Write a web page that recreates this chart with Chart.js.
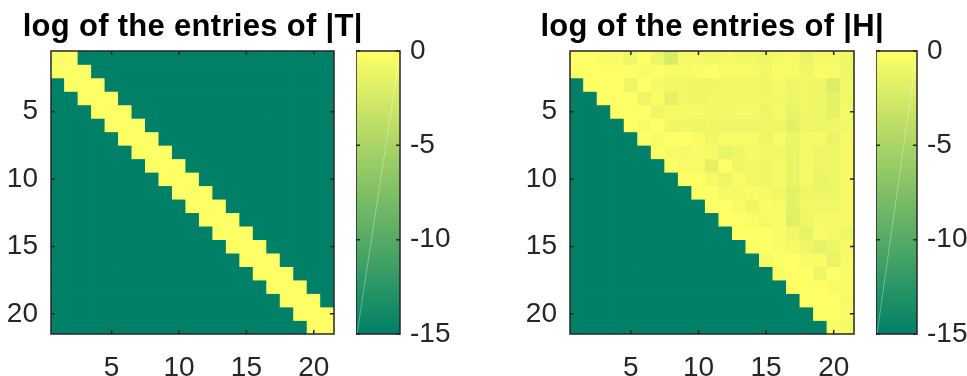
<!DOCTYPE html>
<html lang="en">
<head>
<meta charset="UTF-8">
<title>log of the entries of |T| and |H|</title>
<script src="https://cdn.jsdelivr.net/npm/chart.js"></script>
<style>
  body { margin: 0; background: #fff; width: 967px; height: 376px; position: relative; overflow: hidden; }
  canvas { position: absolute; top: 0; }
  #tChart { left: 0; }
  #tBar { left: 356px; }
  #hChart { left: 519px; }
  #hBar { left: 876px; }
</style>
</head>
<body>
<canvas id="tChart" width="385" height="376"></canvas>
<canvas id="tBar" width="94" height="376"></canvas>
<canvas id="hChart" width="386" height="376"></canvas>
<canvas id="hBar" width="91" height="376"></canvas>
<script>
// ---- data (log10 of |entry|) ----
const N = 21;
const AXIS_TICKS = [5, 10, 15, 20];
const CBAR_TICKS = [0, -5, -10, -15];
const LOG_MIN = -15;
const LOG_MAX = 0;

// T is tridiagonal: main, sub and super diagonal
const T_DIAG = [-0.4, 0, 0, 0, 0, 0, 0, 0, 0, 0, 0, 0, 0, 0, 0, 0, 0, 0, 0, 0, 0];
const T_SUB  = [0, 0, 0, 0, 0, 0, 0, 0, 0, 0, 0, 0, 0, 0, 0, 0, 0, 0, 0, 0];
const T_SUP  = [0, 0, 0, 0, 0, 0, 0, 0, 0, 0, 0, 0, 0, 0, 0, 0, 0, 0, 0, 0];

// H is upper Hessenberg: row r starts at column max(1, r-1), everything left of it is 0
const H_ROWS = [
  [0, 0, -0.4, -0.4, -0.9, 0, -1.1, -2.4, -0.6, -0.6, -0.7, -0.6, -0.7, -0.7, -0.9, -0.6, -0.5, -1.3, -0.6, -0.6, -0.9],
  [0, 0, 0, 0, 0, -0.4, 0, -0.5, -0.5, -0.3, 0, -0.3, -0.3, -0.5, -0.8, -0.3, -0.5, -0.8, -0.3, -0.5, -1.1],
  [0, 0, 0, -1.1, 0, -0.6, -0.8, -0.8, -0.9, -0.9, -0.8, -0.8, -0.8, -0.9, -0.6, -1.0, -0.8, -0.9, -2.0, -0.8],
  [0, 0, 0, -1.1, -0.3, -1.6, -0.8, -0.9, -0.7, -0.8, -0.8, -0.8, -0.8, -0.7, -1.0, -0.8, -0.9, -1.5, -0.8],
  [0, 0, 0, -0.9, -0.6, -0.6, -0.6, -0.7, -0.7, -0.6, -0.6, -1.1, -0.6, -1.3, -0.9, -0.9, -1.5, -0.6],
  [0, -0.4, 0, -0.8, -1.0, -1.1, -1.0, -1.1, -1.1, -1.1, -1.0, -1.0, -1.6, -0.9, -1.1, -0.9, -0.8],
  [0, -0.5, 0, 0, -0.3, -0.8, -0.5, -0.5, -0.5, -1.1, -0.5, -1.1, -0.6, -0.6, -1.3, -0.6],
  [0, -0.5, -0.6, -0.4, -0.6, -1.3, -0.9, -0.6, -0.7, -0.8, -1.3, -0.6, -1.1, -0.9, -0.6],
  [0, -0.5, -0.5, -1.6, 0, -0.9, -0.8, -0.9, -0.6, -1.3, -0.6, -1.1, -0.9, -0.6],
  [0, 0, -0.6, -1.1, -0.3, -0.8, -0.9, -0.6, -1.3, -0.6, -1.3, -0.9, -0.6],
  [0, 0, -0.6, -0.6, -0.3, -0.6, -0.8, -1.6, -0.9, -1.1, -1.1, -0.6],
  [0, 0, -0.5, -0.9, -0.3, -0.5, -1.6, -0.8, -0.8, -0.8, -0.6],
  [0, 0, -0.3, -0.6, -0.3, -1.9, -0.9, -0.6, -0.6, -0.6],
  [0, 0, 0, -0.3, -0.9, -1.4, -0.5, -0.6, -0.9],
  [0, 0, -0.3, -0.6, -0.9, -1.4, -0.9, -0.6],
  [-0.5, 0, 0, -0.5, -0.3, -1.3, -0.5],
  [-0.3, 0, 0, -1.1, 0, -0.5],
  [0, 0, 0, -0.4, -0.4],
  [0, 0, 0, -0.6],
  [0, 0, -0.4],
  [-0.4, -0.6]
];

// ---- styling ----
const FONT = "'Liberation Sans', Arial, Helvetica, sans-serif";
const AXIS_COLOR = '#262626';
const TICK_LEN = 4;

// MATLAB "summer" colormap, clipped to [LOG_MIN, LOG_MAX]
function summer(v) {
  const c = Math.min(LOG_MAX, Math.max(LOG_MIN, v));
  const t = (c - LOG_MIN) / (LOG_MAX - LOG_MIN);
  return `rgb(${Math.round(255 * t)}, ${Math.round(255 * (0.5 + 0.5 * t))}, 102)`;
}

// full matrices, exact zeros -> -Infinity
const T_MAT = [];
for (let r = 0; r < N; r++) {
  const row = [];
  for (let c = 0; c < N; c++) {
    if (c === r) row.push(T_DIAG[r]);
    else if (c === r - 1) row.push(T_SUB[c]);
    else if (c === r + 1) row.push(T_SUP[r]);
    else row.push(-Infinity);
  }
  T_MAT.push(row);
}
const H_MAT = H_ROWS.map((vals, r) => {
  const start = Math.max(0, r - 1);
  return Array(start).fill(-Infinity).concat(vals);
});

function cellDatasets(mat) {
  return mat.map((row, r) => ({
    data: row.map((v, c) => ({ x: c + 1, y: [r + 0.5, r + 1.5] })),
    backgroundColor: row.map(summer),
    borderWidth: 0
  }));
}

// box with inward ticks, drawn on top of the cells
const framePlugin = {
  id: 'frame',
  afterDatasetsDraw(chart, args, opts) {
    const { ctx, chartArea: a } = chart;
    ctx.save();
    if (opts.sheen) {
      ctx.strokeStyle = 'rgba(255,255,255,0.4)';
      ctx.lineWidth = 0.8;
      ctx.beginPath();
      ctx.moveTo(a.left + 1, a.bottom);
      ctx.lineTo(a.right - 1, a.top + 8);
      ctx.stroke();
    }
    ctx.strokeStyle = AXIS_COLOR;
    ctx.lineWidth = 1.5;
    ctx.beginPath();
    if (opts.xTicks) {
      chart.scales.x.ticks.forEach(t => {
        const p = chart.scales.x.getPixelForValue(t.value);
        ctx.moveTo(p, a.bottom); ctx.lineTo(p, a.bottom - TICK_LEN);
        ctx.moveTo(p, a.top); ctx.lineTo(p, a.top + TICK_LEN);
      });
    }
    chart.scales.y.ticks.forEach(t => {
      const p = chart.scales.y.getPixelForValue(t.value);
      ctx.moveTo(a.left, p); ctx.lineTo(a.left + TICK_LEN, p);
      ctx.moveTo(a.right, p); ctx.lineTo(a.right - TICK_LEN, p);
    });
    ctx.stroke();
    ctx.strokeRect(a.left, a.top, a.right - a.left, a.bottom - a.top);
    ctx.restore();
  }
};

// bold title centred over the plot box
const boxTitlePlugin = {
  id: 'boxTitle',
  afterDraw(chart, args, opts) {
    if (!opts.text) return;
    const { ctx, chartArea: a } = chart;
    ctx.save();
    ctx.font = `bold ${opts.size}px ${FONT}`;
    ctx.fillStyle = '#000';
    ctx.textAlign = 'center';
    ctx.textBaseline = 'alphabetic';
    if ('letterSpacing' in ctx) ctx.letterSpacing = opts.spacing + 'px';
    ctx.fillText(opts.text, (a.left + a.right) / 2 + opts.spacing / 2, opts.baseline);
    ctx.restore();
  }
};

function fixedTicks(list) {
  return s => { s.ticks = list.map(v => ({ value: v })); };
}

function heatmap(id, title, mat) {
  return new Chart(document.getElementById(id), {
    type: 'bar',
    data: { datasets: cellDatasets(mat) },
    plugins: [framePlugin, boxTitlePlugin],
    options: {
      responsive: false,
      animation: false,
      events: [],
      devicePixelRatio: 1,
      layout: { padding: { top: 51, left: 0, right: 0, bottom: 0 } },
      datasets: { bar: { grouped: false, barPercentage: 1, categoryPercentage: 1 } },
      plugins: {
        legend: { display: false },
        tooltip: { enabled: false },
        title: { display: false },
        boxTitle: { text: title, size: 31, spacing: 0.3, baseline: 36 },
        frame: { xTicks: true }
      },
      scales: {
        x: {
          type: 'linear', min: 0.5, max: N + 0.5, offset: false,
          afterBuildTicks: fixedTicks(AXIS_TICKS),
          afterFit: s => { s.height = 42; },
          grid: { display: false, drawTicks: false, offset: false },
          border: { display: false },
          ticks: { color: AXIS_COLOR, font: { family: FONT, size: 28 }, padding: 17, maxRotation: 0, autoSkip: false }
        },
        y: {
          type: 'linear', reverse: true, min: 0.5, max: N + 0.5,
          afterBuildTicks: fixedTicks(AXIS_TICKS),
          afterFit: s => { s.width = 51; },
          grid: { display: false, drawTicks: false },
          border: { display: false },
          ticks: { color: AXIS_COLOR, font: { family: FONT, size: 28 }, padding: 13, autoSkip: false }
        },
        yR: {
          type: 'linear', position: 'right', min: 0.5, max: N + 0.5,
          afterFit: s => { s.width = 51; },
          grid: { display: false, drawTicks: false },
          border: { display: false },
          ticks: { display: false }
        }
      }
    }
  });
}

function colorbar(id) {
  return new Chart(document.getElementById(id), {
    type: 'bar',
    data: {
      labels: [''],
      datasets: [{
        data: [[LOG_MIN, LOG_MAX]],
        borderWidth: 0,
        backgroundColor: ctx => {
          const chart = ctx.chart;
          if (!chart.chartArea) return summer(LOG_MIN);
          const y = chart.scales.y;
          const g = chart.ctx.createLinearGradient(0, y.getPixelForValue(LOG_MIN), 0, y.getPixelForValue(LOG_MAX));
          g.addColorStop(0, summer(LOG_MIN));
          g.addColorStop(1, summer(LOG_MAX));
          return g;
        }
      }]
    },
    plugins: [framePlugin],
    options: {
      responsive: false,
      animation: false,
      events: [],
      devicePixelRatio: 1,
      layout: { padding: { top: 51, bottom: 42, left: 0, right: 0 } },
      datasets: { bar: { barPercentage: 1, categoryPercentage: 1 } },
      plugins: {
        legend: { display: false },
        tooltip: { enabled: false },
        frame: { xTicks: false, sheen: true }
      },
      scales: {
        x: { display: false },
        y: {
          position: 'right', min: LOG_MIN, max: LOG_MAX,
          afterBuildTicks: fixedTicks(CBAR_TICKS),
          afterFit: s => { s.width = 50; },
          grid: { display: false, drawTicks: false },
          border: { display: false },
          ticks: { color: AXIS_COLOR, font: { family: FONT, size: 28 }, padding: 10, autoSkip: false }
        }
      }
    }
  });
}

heatmap('tChart', 'log of the entries of |T|', T_MAT);
colorbar('tBar');
heatmap('hChart', 'log of the entries of |H|', H_MAT);
colorbar('hBar');
</script>
</body>
</html>
